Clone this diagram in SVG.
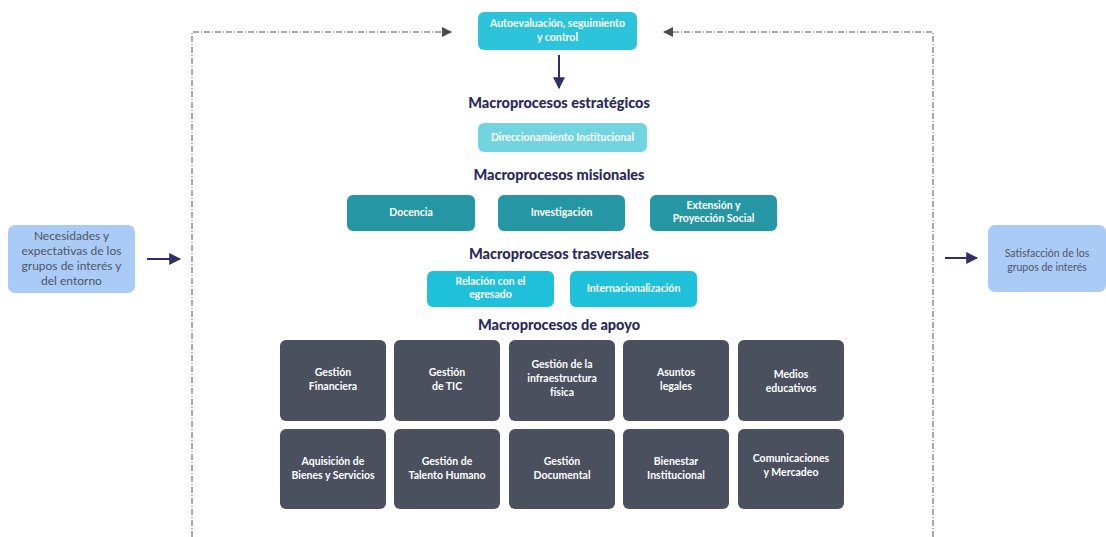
<svg xmlns="http://www.w3.org/2000/svg" width="1106" height="537" viewBox="0 0 1106 537">
<defs>
<marker id="tri" viewBox="0 0 10 10" refX="9" refY="5" markerWidth="10" markerHeight="10" markerUnits="userSpaceOnUse" orient="auto"><path d="M0,0 L10,5 L0,10 z" fill="#4a4a4f"/></marker>
<marker id="nav" viewBox="0 0 10 10" refX="9" refY="5" markerWidth="12" markerHeight="12" markerUnits="userSpaceOnUse" orient="auto"><path d="M0,0 L10,5 L0,10 z" fill="#2e2f66"/></marker>
<style>
.t{font-family:Lato,"Open Sans",sans-serif;font-weight:bold;font-size:10.5px;fill:#fff;text-anchor:middle}
.h{font-family:Lato,"Open Sans",sans-serif;font-weight:900;font-size:14.5px;fill:#2b2a5c;text-anchor:middle}
.s{font-family:Lato,"Open Sans",sans-serif;font-size:12px;fill:#4f5566;text-anchor:middle}
.s2{font-family:Lato,"Open Sans",sans-serif;font-size:10.5px;fill:#4f5566;text-anchor:middle}
.g{fill:#4b505f}
.dash{fill:none;stroke:#555;stroke-width:1;stroke-dasharray:6 2 1 2}
.ar{stroke:#2e2f66;stroke-width:2;fill:none}
</style>
</defs>
<g id="connectors">
<path class="dash" d="M192,537 L192,32 L451,32" marker-end="url(#tri)"/>
<path class="dash" d="M933,537 L933,32 L664,32" marker-end="url(#tri)"/>
<path class="ar" d="M559,55 L559,88" marker-end="url(#nav)"/>
<path class="ar" d="M147,259 L180,259" marker-end="url(#nav)"/>
<path class="ar" d="M945,258 L977,258" marker-end="url(#nav)"/>
</g>
<g id="autoevaluacion"><rect x="478" y="12" width="159" height="38" rx="6" fill="#2cc4da"/><text class="t" x="557.5" y="27">Autoevaluación, seguimiento</text><text class="t" x="557.5" y="41">y control</text></g>
<g id="h-estrategicos"><text class="h" x="559" y="108">Macroprocesos estratégicos</text></g>
<g id="direccionamiento"><rect x="478" y="123" width="169" height="29" rx="6" fill="#72d3e1"/><text class="t" x="562.5" y="141">Direccionamiento Institucional</text></g>
<g id="h-misionales"><text class="h" x="559" y="180">Macroprocesos misionales</text></g>
<g id="docencia"><rect x="347" y="195" width="128" height="36" rx="6" fill="#2597a4"/><text class="t" x="411" y="216">Docencia</text></g>
<g id="investigacion"><rect x="498" y="195" width="127" height="36" rx="6" fill="#2597a4"/><text class="t" x="561.5" y="216">Investigación</text></g>
<g id="extension"><rect x="650" y="195" width="127" height="36" rx="6" fill="#2597a4"/><text class="t" x="713.5" y="209">Extensión y</text><text class="t" x="713.5" y="222">Proyección Social</text></g>
<g id="h-trasversales"><text class="h" x="559" y="259">Macroprocesos trasversales</text></g>
<g id="relacion"><rect x="427" y="271" width="127" height="36" rx="6" fill="#1fc0da"/><text class="t" x="490.5" y="285">Relación con el</text><text class="t" x="490.5" y="298">egresado</text></g>
<g id="internacionalizacion"><rect x="570" y="271" width="127" height="36" rx="6" fill="#1fc0da"/><text class="t" x="633.5" y="292">Internacionalización</text></g>
<g id="h-apoyo"><text class="h" x="559" y="330">Macroprocesos de apoyo</text></g>
<g id="g-financiera"><rect class="g" x="280" y="340" width="106" height="81" rx="6"/><text class="t" x="333" y="376">Gestión</text><text class="t" x="333" y="390">Financiera</text></g>
<g id="g-tic"><rect class="g" x="394" y="340" width="106" height="81" rx="6"/><text class="t" x="447" y="376">Gestión</text><text class="t" x="447" y="390">de TIC</text></g>
<g id="g-infra"><rect class="g" x="509" y="340" width="106" height="81" rx="6"/><text class="t" x="562" y="368">Gestión de la</text><text class="t" x="562" y="382">infraestructura</text><text class="t" x="562" y="396">física</text></g>
<g id="g-legales"><rect class="g" x="623" y="340" width="106" height="81" rx="6"/><text class="t" x="676" y="376">Asuntos</text><text class="t" x="676" y="390">legales</text></g>
<g id="g-medios"><rect class="g" x="738" y="340" width="106" height="81" rx="6"/><text class="t" x="791" y="378">Medios</text><text class="t" x="791" y="392">educativos</text></g>
<g id="g-aquisicion"><rect class="g" x="280" y="429" width="106" height="80" rx="6"/><text class="t" x="333" y="465">Aquisición de</text><text class="t" x="333" y="479">Bienes y Servicios</text></g>
<g id="g-talento"><rect class="g" x="394" y="429" width="106" height="80" rx="6"/><text class="t" x="447" y="465">Gestión de</text><text class="t" x="447" y="479">Talento Humano</text></g>
<g id="g-documental"><rect class="g" x="509" y="429" width="106" height="80" rx="6"/><text class="t" x="562" y="465">Gestión</text><text class="t" x="562" y="479">Documental</text></g>
<g id="g-bienestar"><rect class="g" x="623" y="429" width="106" height="80" rx="6"/><text class="t" x="676" y="465">Bienestar</text><text class="t" x="676" y="479">Institucional</text></g>
<g id="g-comunicaciones"><rect class="g" x="738" y="429" width="106" height="80" rx="6"/><text class="t" x="791" y="462">Comunicaciones</text><text class="t" x="791" y="476">y Mercadeo</text></g>
<g id="necesidades"><rect x="8" y="225" width="127" height="68" rx="7" fill="#a9cbf6"/><text class="s" x="71.5" y="240">Necesidades y</text><text class="s" x="71.5" y="255">expectativas de los</text><text class="s" x="71.5" y="270">grupos de interés y</text><text class="s" x="71.5" y="285">del entorno</text></g>
<g id="satisfaccion"><rect x="988" y="225" width="118" height="67" rx="7" fill="#a9cbf6"/><text class="s2" x="1047" y="257">Satisfacción de los</text><text class="s2" x="1047" y="271">grupos de interés</text></g>
</svg>
